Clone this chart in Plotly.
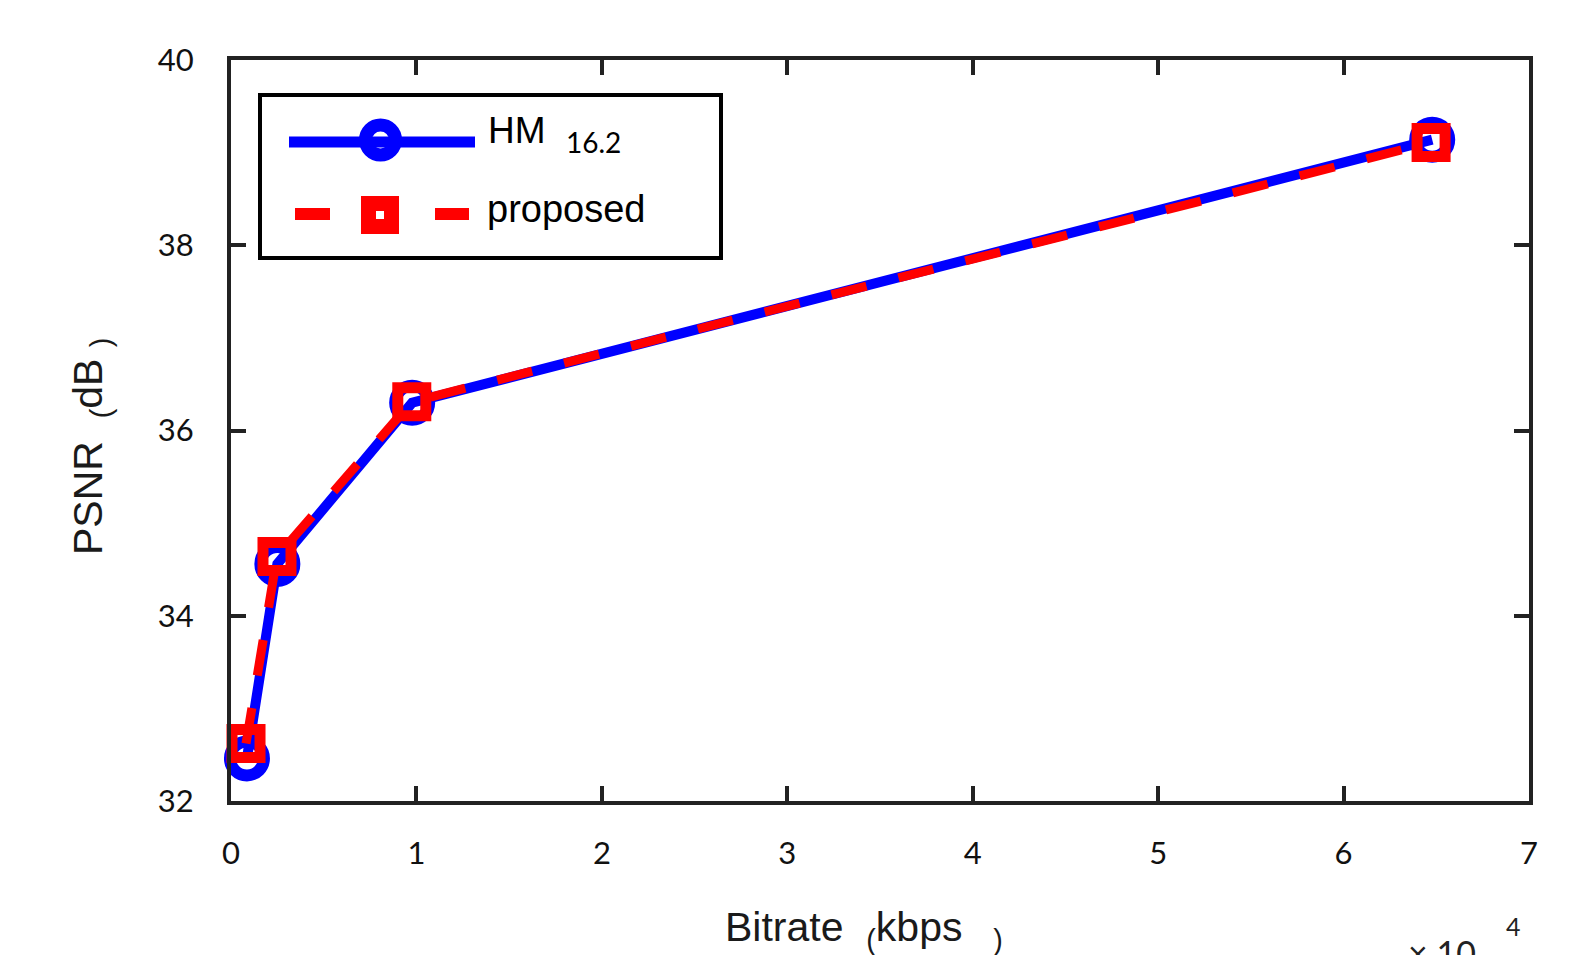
import plotly.graph_objects as go

# Data (bitrate in kbps, PSNR in dB)
hm_bitrate = [860, 2500, 9770, 64780]
hm_psnr = [32.46, 34.56, 36.30, 39.14]
prop_bitrate = [810, 2480, 9750, 64720]
prop_psnr = [32.62, 34.64, 36.31, 39.11]

x_tickvals = [0, 10000, 20000, 30000, 40000, 50000, 60000, 70000]
x_ticktext = ["0", "1", "2", "3", "4", "5", "6", "7"]
y_tickvals = [32, 34, 36, 38, 40]
y_ticktext = ["32", "34", "36", "38", "40"]

W, H = 1578, 955
# page body has an 8px margin, compensate
PL, PT, PW, PH = 231, 60, 1298, 741
OFF = 8
L = PL - OFF
T = PT - OFF
R = W - L - PW
B = H - T - PH

fig = go.Figure()
fig.add_trace(go.Scatter(
    x=hm_bitrate, y=hm_psnr, mode="lines+markers", name="HM 16.2",
    line=dict(color="#0000ff", width=10),
    marker=dict(symbol="circle-open", size=34, color="#0000ff", line=dict(width=12, color="#0000ff")),
    showlegend=False, cliponaxis=False))
fig.add_trace(go.Scatter(
    x=prop_bitrate, y=prop_psnr, mode="lines+markers", name="proposed",
    line=dict(color="#ff0000", width=9, dash="36px,33px"),
    marker=dict(symbol="square-open", size=28, color="#ff0000", line=dict(width=11, color="#ff0000")),
    showlegend=False, cliponaxis=False))

tickfont = dict(family="Lato, Noto Sans, sans-serif", size=31, color="#111")
axcommon = dict(showline=True, linecolor="#222", linewidth=4, mirror="ticks",
                ticks="inside", ticklen=15, tickwidth=4, tickcolor="#222",
                showgrid=False, zeroline=False, tickfont=tickfont)

fig.update_xaxes(range=[0, 70000], tickvals=x_tickvals, ticktext=x_ticktext,
                 ticklabelstandoff=22, **axcommon)
fig.update_yaxes(range=[32, 40], tickvals=y_tickvals, ticktext=y_ticktext,
                 ticklabelstandoff=27, **axcommon)

# paper coordinates from reference page pixel positions
def px(x):
    return (x - PL) / PW
def py(y):
    return (PT + PH - y) / PH

shapes = []
# legend box
shapes.append(dict(type="rect", xref="paper", yref="paper", x0=px(260), x1=px(721), y0=py(95), y1=py(258),
                   line=dict(color="#000", width=4), fillcolor="white", layer="above"))
# HM legend line + circle
shapes.append(dict(type="line", xref="paper", yref="paper", x0=px(289), x1=px(475), y0=py(142), y1=py(142),
                   line=dict(color="#0000ff", width=11), layer="above"))
shapes.append(dict(type="circle", xref="paper", yref="paper", x0=px(365.5), x1=px(395.5), y0=py(125), y1=py(155),
                   line=dict(color="#0000ff", width=13), fillcolor="rgba(0,0,0,0)", layer="above"))
# proposed legend dashes + square
shapes.append(dict(type="line", xref="paper", yref="paper", x0=px(295), x1=px(330), y0=py(214), y1=py(214),
                   line=dict(color="#ff0000", width=12), layer="above"))
shapes.append(dict(type="line", xref="paper", yref="paper", x0=px(435), x1=px(469), y0=py(214), y1=py(214),
                   line=dict(color="#ff0000", width=12), layer="above"))
shapes.append(dict(type="rect", xref="paper", yref="paper", x0=px(368.5), x1=px(391.5), y0=py(203.5), y1=py(226.5),
                   line=dict(color="#ff0000", width=15), fillcolor="rgba(0,0,0,0)", layer="above"))

arial = "Liberation Sans, Arial, sans-serif"
gill = "Lato, Noto Sans, sans-serif"
annotations = [
    dict(text="HM", x=px(486), y=py(130), xref="paper", yref="paper", xanchor="left", yanchor="middle",
         showarrow=False, font=dict(family=arial, size=37, color="#000")),
    dict(text="16.2", x=px(564), y=py(142), xref="paper", yref="paper", xanchor="left", yanchor="middle",
         showarrow=False, font=dict(family=gill, size=28, color="#000")),
    dict(text="proposed", x=px(485), y=py(209), xref="paper", yref="paper", xanchor="left", yanchor="middle",
         showarrow=False, font=dict(family=arial, size=38, color="#000")),
    dict(text="Bitrate  <sub>(</sub>kbps  <sub> )</sub>", x=px(864), y=py(930),
         xref="paper", yref="paper", xanchor="center", yanchor="middle",
         showarrow=False, font=dict(family=arial, size=41, color="#1a1a1a")),
    dict(text="PSNR  <sub>(</sub>dB <sub>)</sub>", x=px(91), y=py(447),
         xref="paper", yref="paper", xanchor="center", yanchor="middle", textangle=-90,
         showarrow=False, font=dict(family=arial, size=41, color="#1a1a1a")),
    dict(text="× 10", x=px(1406), y=py(930), xref="paper", yref="paper", xanchor="left", yanchor="top",
         showarrow=False, font=dict(family=gill, size=34, color="#222")),
    dict(text="4", x=px(1513), y=py(926), xref="paper", yref="paper", xanchor="center", yanchor="middle",
         showarrow=False, font=dict(family=gill, size=25, color="#222")),
]

fig.update_layout(
    width=W, height=H, margin=dict(l=L, r=R, t=T, b=B),
    paper_bgcolor="white", plot_bgcolor="white",
    shapes=shapes, annotations=annotations, showlegend=False,
)

fig.write_html("out.html")
